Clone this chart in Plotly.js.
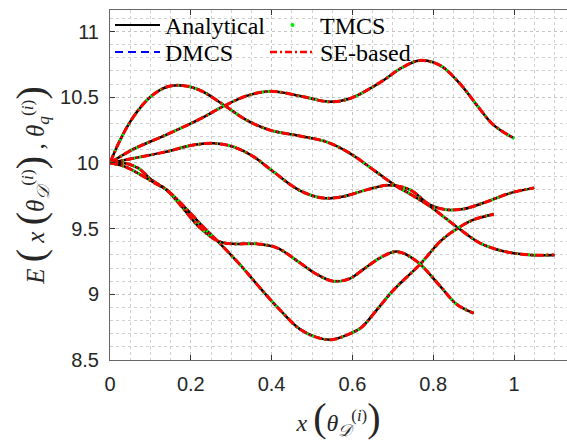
<!DOCTYPE html>
<html>
<head>
<meta charset="utf-8">
<script src="https://cdn.plot.ly/plotly-3.0.1.min.js"></script>
<style>html,body{margin:0;padding:0;background:#fff;}#chart{width:567px;height:441px;}</style>
</head>
<body>
<div id="chart"></div>
<script>
// Curve data
const xA = [0, 0.025, 0.058, 0.099, 0.14, 0.178, 0.223, 0.28, 0.338, 0.396, 0.47, 0.536, 0.594, 0.652, 0.703, 0.75, 0.792, 0.83, 0.862, 0.916, 0.974, 1.04, 1.1];
const yA = [10, 10.174, 10.351, 10.50, 10.578, 10.59, 10.553, 10.445, 10.326, 10.25, 10.205, 10.16, 10.073, 9.947, 9.835, 9.75, 9.67, 9.58, 9.505, 9.39, 9.328, 9.30, 9.30];

const xB = [0, 0.058, 0.14, 0.223, 0.28, 0.338, 0.396, 0.47, 0.545, 0.594, 0.677, 0.718, 0.767, 0.817, 0.866, 0.908, 0.949, 1.0];
const yB = [10, 10.105, 10.215, 10.335, 10.43, 10.51, 10.545, 10.51, 10.465, 10.49, 10.629, 10.717, 10.78, 10.742, 10.604, 10.44, 10.29, 10.187];

const xC = [0, 0.058, 0.14, 0.206, 0.256, 0.305, 0.355, 0.404, 0.47, 0.528, 0.578, 0.635, 0.69, 0.743, 0.792, 0.833, 0.875, 0.924, 0.99, 1.05];
const yC = [10, 10.035, 10.086, 10.136, 10.149, 10.123, 10.048, 9.934, 9.79, 9.733, 9.745, 9.795, 9.83, 9.795, 9.68, 9.644, 9.65, 9.695, 9.77, 9.81];

const xD = [0, 0.037, 0.07, 0.103, 0.14, 0.177, 0.219, 0.268, 0.305, 0.363, 0.413, 0.47, 0.512, 0.553, 0.594, 0.627, 0.67, 0.71, 0.759, 0.817, 0.858, 0.9];
const yD = [10, 9.998, 9.96, 9.87, 9.795, 9.669, 9.517, 9.404, 9.384, 9.384, 9.354, 9.24, 9.152, 9.10, 9.12, 9.19, 9.28, 9.325, 9.252, 9.063, 8.924, 8.856];

const xE = [0, 0.037, 0.07, 0.111, 0.14, 0.186, 0.227, 0.268, 0.322, 0.371, 0.421, 0.47, 0.512, 0.548, 0.594, 0.622, 0.66, 0.701, 0.767, 0.82, 0.862, 0.9, 0.95];
const yE = [10, 9.972, 9.92, 9.846, 9.795, 9.66, 9.525, 9.40, 9.225, 9.05, 8.88, 8.735, 8.672, 8.655, 8.70, 8.747, 8.88, 9.03, 9.227, 9.41, 9.505, 9.568, 9.61];

const seriesNames = ['Analytical', 'TMCS', 'DMCS', 'SE-based'];
const xTicks = [0, 0.2, 0.4, 0.6, 0.8, 1];
const yTicks = [8.5, 9, 9.5, 10, 10.5, 11];

const curves = [[xA, yA], [xB, yB], [xC, yC], [xD, yD], [xE, yE]];

const traces = [];
const sh = {shape: 'spline', smoothing: 1};
curves.forEach(([x, y]) => {
  traces.push({x, y, mode: 'lines', showlegend: false, hoverinfo: 'skip',
    line: Object.assign({color: '#0000ff', width: 2, dash: 'dash'}, sh)});
  traces.push({x, y, mode: 'lines', showlegend: false, hoverinfo: 'skip',
    line: Object.assign({color: '#000000', width: 2.5}, sh)});
  traces.push({x, y, mode: 'lines', showlegend: false, hoverinfo: 'skip',
    line: Object.assign({color: '#00ee00', width: 3, dash: '2px,4px'}, sh)});
  traces.push({x, y, mode: 'lines', showlegend: false, hoverinfo: 'skip',
    line: Object.assign({color: '#ff0000', width: 3, dash: '8px,3px,2px,3px'}, sh)});
});

// legend entries
traces.push({x: [null], y: [null], mode: 'lines', name: seriesNames[0], legend: 'legend', line: {color: '#000', width: 2}});
traces.push({x: [null], y: [null], mode: 'markers', name: seriesNames[1], legend: 'legend', marker: {color: '#00ee00', size: 4}});
traces.push({x: [null], y: [null], mode: 'lines', name: seriesNames[2], legend: 'legend2', line: {color: '#0000ff', width: 2, dash: '8px,5px'}});
traces.push({x: [null], y: [null], mode: 'lines', name: seriesNames[3], legend: 'legend2', line: {color: '#ff0000', width: 2.5, dash: '7px,3px,2px,3px'}});

const axisCommon = {
  showline: true, linecolor: '#666', linewidth: 1,
  ticks: 'inside', ticklen: 5, tickcolor: '#333', tickwidth: 1,
  showgrid: true, gridcolor: '#c4c4c4', griddash: 'dot', gridwidth: 1,
  zeroline: false,
  tickfont: {family: 'Liberation Sans, Arial, sans-serif', size: 20, color: '#262626'},
  ticklabelstandoff: 6
};

const legendCommon = {
  orientation: 'h', x: 0, xanchor: 'left', yanchor: 'top',
  bgcolor: 'rgba(0,0,0,0)', borderwidth: 0,
  entrywidth: 95, entrywidthmode: 'pixels',
  font: {family: 'Liberation Serif, Times New Roman, serif', size: 24, color: '#000'},
  itemwidth: 45
};

const P = s => '<span style="font-size:40px">' + s + '</span>';

const layout = {
  width: 567, height: 441,
  margin: {l: 110, r: 0, t: 10, b: 81},
  paper_bgcolor: '#fff', plot_bgcolor: '#fff',
  showlegend: true,
  legend: Object.assign({}, legendCommon, {y: 1.02}),
  legend2: Object.assign({}, legendCommon, {y: 0.943}),
  xaxis: Object.assign({}, axisCommon, {
    range: [0, 1.1312], tickvals: xTicks, ticktext: xTicks.map(String),
    mirror: 'ticks',
    minor: {dtick: 0.05, tick0: 0, showgrid: true, gridcolor: '#d0d0d0', griddash: 'dot', gridwidth: 1, ticks: ''},
    title: {text: '<i>x</i> ' + P('(') + '<i>θ</i><sub><i>𝒟</i></sub><sup>(<i>i</i>)</sup>' + P(')'),
      font: {family: 'Liberation Serif, Times New Roman, serif', size: 24, color: '#262626'}, standoff: 4}
  }),
  yaxis: Object.assign({}, axisCommon, {
    range: [8.5, 11.164], tickvals: yTicks, ticktext: yTicks.map(String),
    mirror: false,
    minor: {dtick: 0.1, tick0: 8.5, showgrid: true, gridcolor: '#d0d0d0', griddash: 'dot', gridwidth: 1, ticks: ''},
    title: {text: '<i>E</i> ' + P('(') + ' <i>x</i> ' + P('(') + '<i>θ</i><sub><i>𝒟</i></sub><sup>(<i>i</i>)</sup>' + P(')') + ' , <i>θ</i><sub><i>q</i></sub><sup>(<i>i</i>)</sup>' + P(')'),
      font: {family: 'Liberation Serif, Times New Roman, serif', size: 25, color: '#262626'}, standoff: 8}
  })
};

Plotly.newPlot('chart', traces, layout, {staticPlot: true, displayModeBar: false});
</script>
</body>
</html>
